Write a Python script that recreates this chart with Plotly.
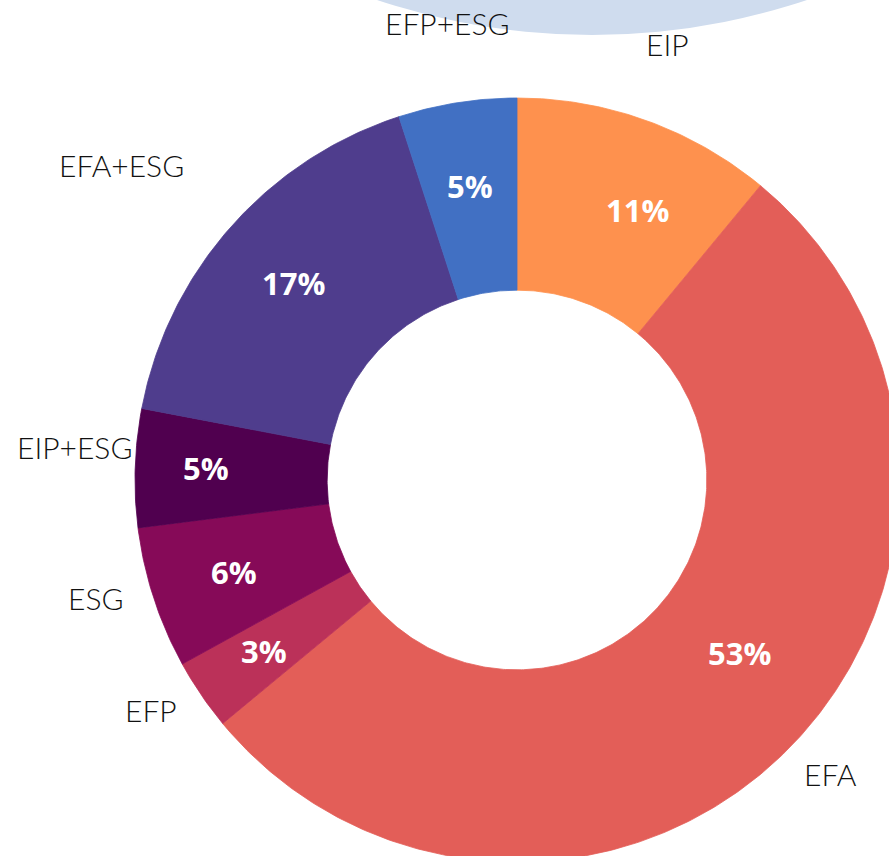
import numpy as np
import plotly.graph_objects as go

# ---- data ----
labels = ["EIP", "EFA", "EFP", "ESG", "EIP+ESG", "EFA+ESG", "EFP+ESG"]
values = [11, 53, 3, 6, 5, 17, 5]
colors = ["#FE914E", "#E35E58", "#BB3159", "#860A58", "#50004F", "#4F3D8D", "#4170C3"]

# ---- layout constants ----
W, H = 889, 856
CX_PX, CY_PX, R_PX = 517, 480, 382      # donut centre / outer radius in pixels
R_OUT, R_IN = 1.0, 0.497
R_PCT = 0.78                            # radius of the percentage labels
R_LAB = 1.16                            # radius of the category labels
label_shift = {"EFA+ESG": (-63, 3)}
pct_shift = {"EIP": (20, -10), "EFA": (12, 38), "EIP+ESG": (-13, 3), "EFP": (-7, -4)}

total = sum(values)
fracs = np.array(values, dtype=float) / total
ends = np.cumsum(fracs)
starts = ends - fracs

fig = go.Figure()

for lab, v, c, s, e in zip(labels, values, colors, starts, ends):
    n = max(8, int(600 * (e - s)))
    ang = 2 * np.pi * np.linspace(s, e, n)
    xo, yo = R_OUT * np.sin(ang), R_OUT * np.cos(ang)
    xi, yi = R_IN * np.sin(ang[::-1]), R_IN * np.cos(ang[::-1])
    x = np.concatenate([xo, xi, xo[:1]])
    y = np.concatenate([yo, yi, yo[:1]])
    fig.add_trace(go.Scatter(
        x=x, y=y, mode="lines", fill="toself", fillcolor=c,
        line=dict(width=0.8, color=c), name=lab, showlegend=False,
        hoveron="fills", hoverinfo="text", text=f"{lab}: {v / total:.0%}",
    ))

mid = 2 * np.pi * (starts + ends) / 2
for lab, v, a in zip(labels, values, mid):
    dx, dy = pct_shift.get(lab, (0, 0))
    fig.add_annotation(
        x=R_PCT * np.sin(a), y=R_PCT * np.cos(a), text=f"{round(100 * v / total)}%",
        showarrow=False, xanchor="center", yanchor="middle", xshift=dx, yshift=dy,
        font=dict(family="Open Sans", size=31, color="white", weight="bold"),
    )

for lab, a in zip(labels, mid):
    dx, dy = label_shift.get(lab, (0, 0))
    fig.add_annotation(
        x=R_LAB * np.sin(a), y=R_LAB * np.cos(a), text=lab, showarrow=False,
        xanchor="center", yanchor="middle", yshift=19 + dy, xshift=dx,
        font=dict(family="Lato", size=30, color="#111111", weight=300),
    )

# decorative light-blue disc at the top
bx, by, br = (592 - CX_PX) / R_PX, (CY_PX + 643) / R_PX, 678 / R_PX
fig.add_shape(type="circle", xref="x", yref="y", x0=bx - br, x1=bx + br,
              y0=by - br, y1=by + br, fillcolor="#CFDCEE",
              line=dict(width=0), layer="below")

fig.update_xaxes(range=[-CX_PX / R_PX, (W - CX_PX) / R_PX], visible=False)
fig.update_yaxes(range=[-(H - CY_PX) / R_PX, CY_PX / R_PX], visible=False)
fig.update_layout(width=W, height=H, margin=dict(l=0, r=0, t=0, b=0),
                  plot_bgcolor="white", paper_bgcolor="white")

fig.write_html("out.html", config={"displayModeBar": False},
               post_script="document.body.style.margin='0';document.body.style.overflow='hidden';")
